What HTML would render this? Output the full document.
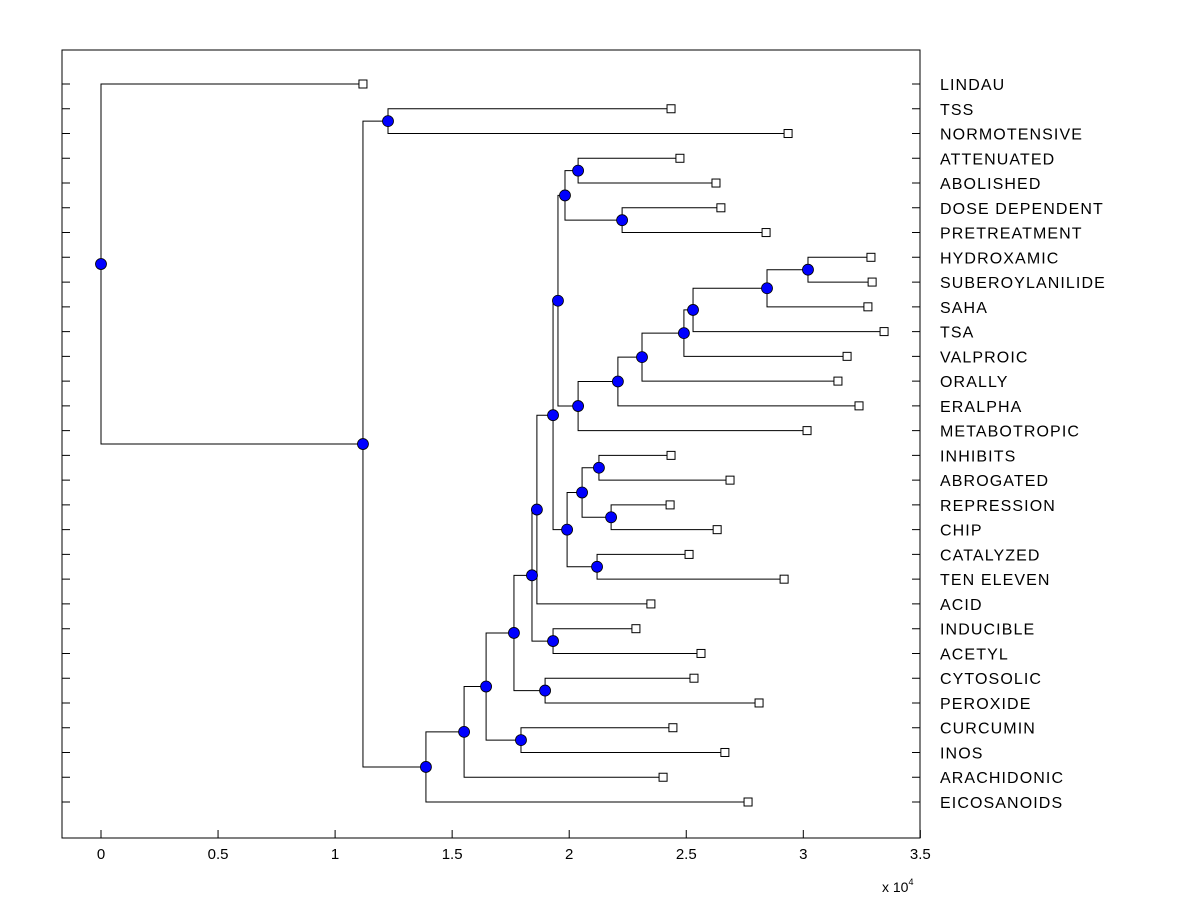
<!DOCTYPE html>
<html><head><meta charset="utf-8"><style>
body{margin:0;background:#fff}
svg{display:block;font-family:"Liberation Sans",Arial,sans-serif}
</style></head><body>
<svg id="chart" width="1200" height="900" viewBox="0 0 1200 900">
<rect x="0" y="0" width="1200" height="900" fill="#fff"/>
<g id="links"></g>
<g id="marks"></g>
<rect x="62" y="50" width="858" height="788" fill="none" stroke="#000" stroke-width="1"/>
<g id="axes"></g>
<text x="882" y="892" font-size="14">x 10<tspan dy="-7" font-size="9">4</tspan></text>
</svg>
<script>
const leafLabels = ["LINDAU","TSS","NORMOTENSIVE","ATTENUATED","ABOLISHED","DOSE DEPENDENT","PRETREATMENT","HYDROXAMIC","SUBEROYLANILIDE","SAHA","TSA","VALPROIC","ORALLY","ERALPHA","METABOTROPIC","INHIBITS","ABROGATED","REPRESSION","CHIP","CATALYZED","TEN ELEVEN","ACID","INDUCIBLE","ACETYL","CYTOSOLIC","PEROXIDE","CURCUMIN","INOS","ARACHIDONIC","EICOSANOIDS"];
const leafValues = [1.119,2.435,2.935,2.473,2.627,2.648,2.841,3.289,3.294,3.276,3.345,3.187,3.148,3.238,3.016,2.435,2.687,2.431,2.632,2.512,2.918,2.349,2.285,2.563,2.533,2.811,2.443,2.665,2.401,2.764];
const mergeA = [1,3,5,31,7,34,35,36,37,38,39,33,15,17,42,19,44,41,47,22,48,24,50,26,52,54,55,30,0];
const mergeB = [2,4,6,32,8,9,10,11,12,13,14,40,16,18,43,20,45,46,21,23,49,25,51,27,53,28,29,56,57];
const mergeHeights = [1.226,2.038,2.226,1.982,3.020,2.845,2.529,2.490,2.311,2.208,2.038,1.952,2.127,2.179,2.055,2.119,1.991,1.931,1.862,1.931,1.841,1.897,1.764,1.794,1.645,1.551,1.388,1.119,0];
const xTicks = [0,0.5,1,1.5,2,2.5,3,3.5];
const xTickLabels = ["0","0.5","1","1.5","2","2.5","3","3.5"];

const NS="http://www.w3.org/2000/svg";
const X0=62,X1=920,Y0=50,Y1=838;
const xScale=v=>101+v*234.1;
const rowTop=84,rowStep=(802-84)/(leafLabels.length-1);
const yScale=i=>rowTop+i*rowStep;
function mk(tag,attrs,parent){const e=document.createElementNS(NS,tag);for(const k in attrs)e.setAttribute(k,attrs[k]);parent.appendChild(e);return e;}
const links=document.getElementById('links'),marks=document.getElementById('marks'),axes=document.getElementById('axes');
const nL=leafLabels.length;
const pos={};
for(let i=0;i<nL;i++)pos[i]={x:xScale(leafValues[i]),y:yScale(i)};
for(let k=0;k<mergeHeights.length;k++){
  const a=pos[mergeA[k]],b=pos[mergeB[k]];
  const px=xScale(mergeHeights[k]);
  pos[nL+k]={x:px,y:(a.y+b.y)/2};
  const p=mk('path',{d:`M${b.x},${b.y}H${px}V${a.y}H${a.x}`,fill:'none',stroke:'#000','stroke-width':1},links);
  
  
}
for(let k=0;k<mergeHeights.length;k++){
  const p=pos[nL+k];
  const c=mk('circle',{cx:p.x,cy:p.y,r:5.5,fill:'#0000ff',stroke:'#000','stroke-width':0.8},marks);
  
  
}
for(let i=0;i<nL;i++){
  const p=pos[i];
  const r=mk('rect',{x:p.x-4,y:p.y-4,width:8,height:8,fill:'#fff',stroke:'#000','stroke-width':1},marks);
  
  
  const t=mk('text',{x:940,y:p.y+6,'font-size':16,'letter-spacing':1.1},axes);
  t.textContent=leafLabels[i];
  
  
  const tl=mk('path',{d:`M${X0},${p.y}h8M${X1},${p.y}h-8`,stroke:'#000','stroke-width':1},axes);
  
  
}
for(let i=0;i<xTicks.length;i++){
  const x=xScale(xTicks[i]);
  const tk=mk('path',{d:`M${x},${Y1}v-8`,stroke:'#000','stroke-width':1},axes);
  
  
  const t=mk('text',{x:x,y:Y1+21,'font-size':15,'text-anchor':'middle'},axes);
  t.textContent=xTickLabels[i];
  
  
}
</script>
</body></html>
